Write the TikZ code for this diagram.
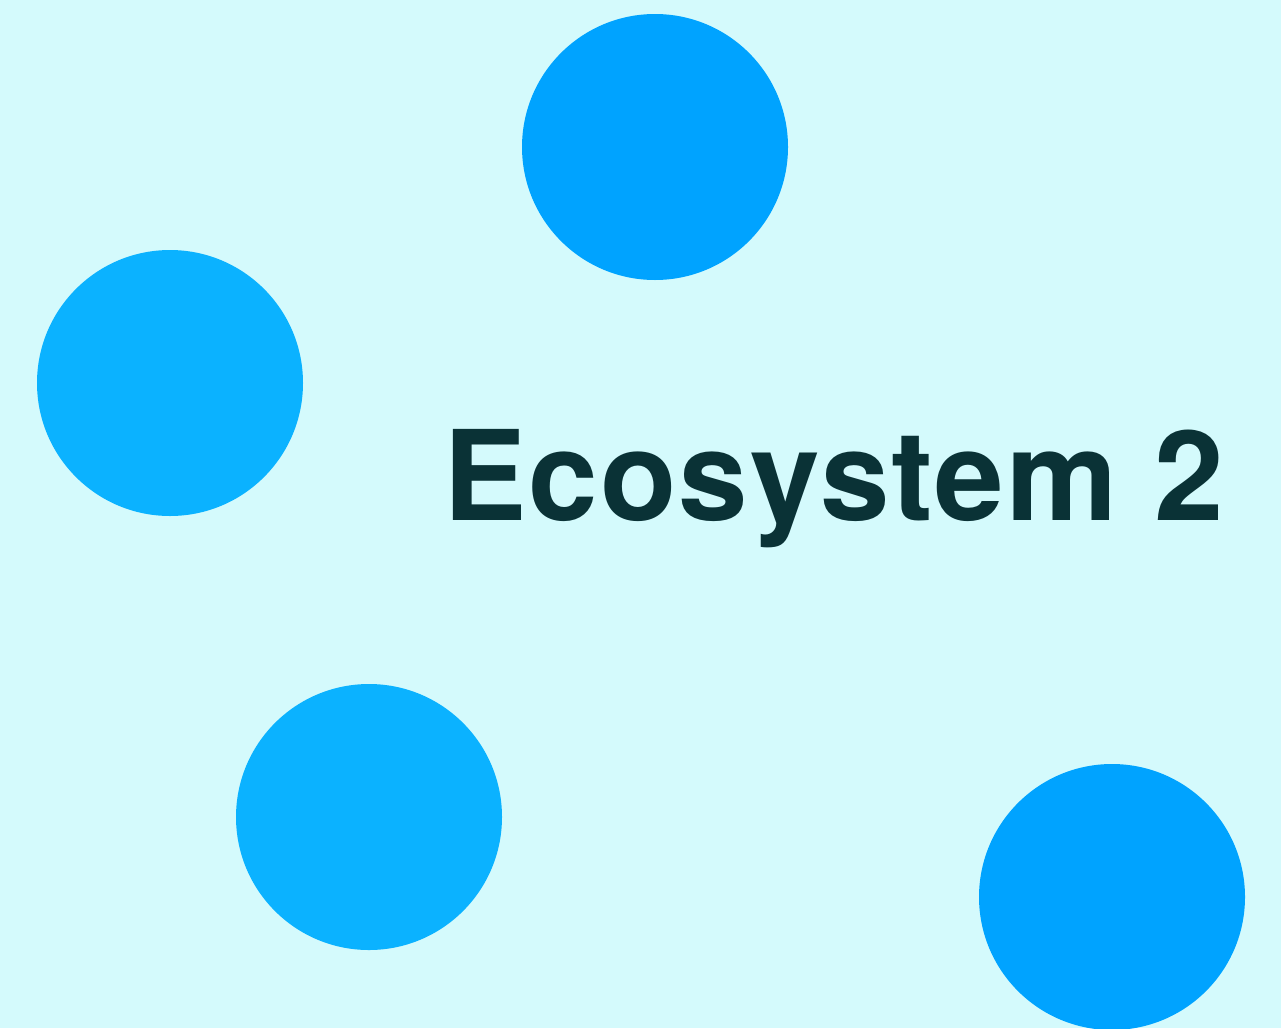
\documentclass[tikz,border=0pt]{standalone}
\usepackage{fontspec}
\setmainfont{TeX Gyre Heros}[LetterSpace=1.7]
\usepackage{tikz}
\usetikzlibrary{positioning}
\usepackage{xcolor}
\definecolor{bgcyan}{HTML}{D4FAFC}
\definecolor{deepblue}{HTML}{00A3FF}
\definecolor{lightblue}{HTML}{0BB2FF}
\definecolor{darkteal}{HTML}{0A3236}
\tikzstyle{blob} = [circle, minimum size=266pt, inner sep=0pt, draw=none, fill=deepblue]
\tikzstyle{title} = [inner sep=0pt, anchor=base west, text=darkteal, font=\bfseries\fontsize{125}{125}\selectfont]

\begin{document}
\begin{tikzpicture}[x=1pt, y=-1pt]
  \fill[bgcyan] (0,0) rectangle (1281,1028);
  \useasboundingbox (0,0) rectangle (1281,1028);
  \node[blob] (top) at (655,147) {};
  \node[blob, fill=lightblue] (left) at (170,383) {};
  \node[blob, fill=lightblue] (lower) at (369,817) {};
  \node[blob] (corner) at (1112,897) {};
  \node[title] (name) at (443,520) {Ecosystem 2};
\end{tikzpicture}
\end{document}
